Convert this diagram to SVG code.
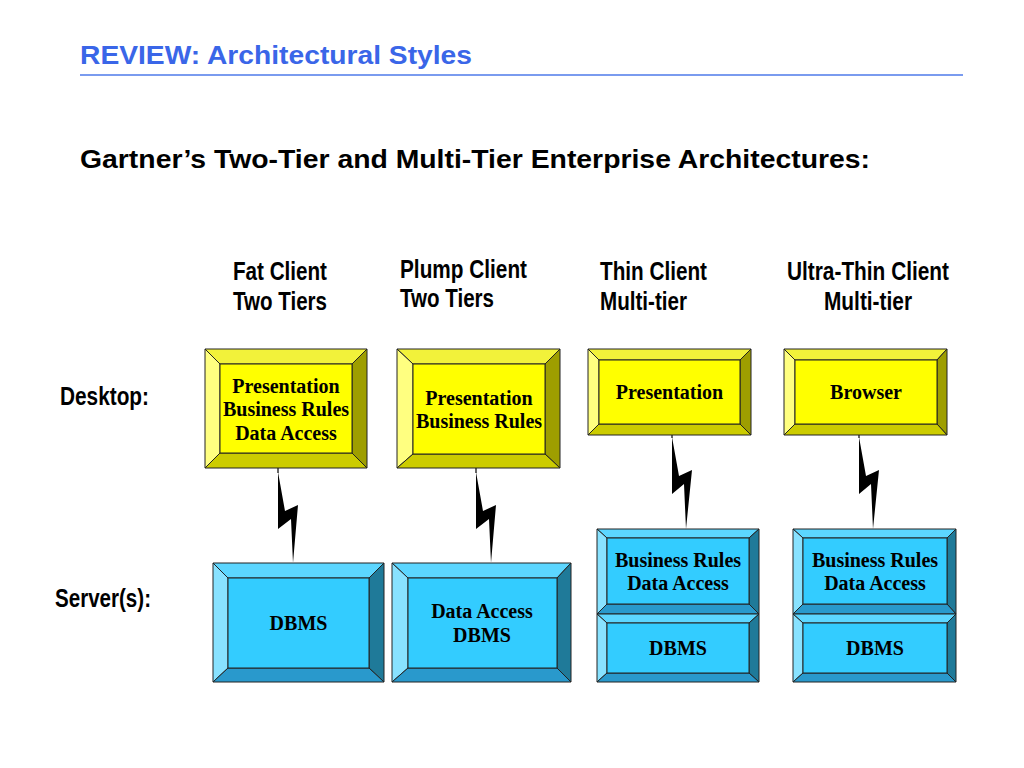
<svg xmlns="http://www.w3.org/2000/svg" width="1024" height="768" viewBox="0 0 1024 768">
<style>
.title{font-family:"Liberation Sans",Arial,sans-serif;font-weight:bold;font-size:26px;fill:#3A66E8}
.sub{font-family:"Liberation Sans",Arial,sans-serif;font-weight:bold;font-size:26px;fill:#000}
.hdr{font-family:"Liberation Sans",Arial,sans-serif;font-weight:bold;font-size:26px;fill:#000}
.bt{font-family:"Liberation Serif","Times New Roman",serif;font-weight:bold;font-size:20px;fill:#000;text-anchor:middle}
.ed{stroke:#222;stroke-width:1;stroke-linejoin:miter}
.yf{fill:#FFFF00}.yt{fill:#F2F23A}.yl{fill:#FFFF80}.yr{fill:#9E9E00}.yb{fill:#CCCC00}
.bf{fill:#33CCFF}.btp{fill:#5CD6FF}.bl{fill:#88E2FF}.br{fill:#1F7A99}.bb{fill:#2999CC}
.bolt{fill:#000}
.wire{stroke:#000;stroke-width:1.2;fill:none}
</style>

<text class="title" x="80" y="64" textLength="392" lengthAdjust="spacingAndGlyphs">REVIEW: Architectural Styles</text>
<line x1="80" y1="75" x2="963" y2="75" stroke="#7A9BEF" stroke-width="2"/>
<text class="sub" x="80" y="168" textLength="790" lengthAdjust="spacingAndGlyphs">Gartner’s Two-Tier and Multi-Tier Enterprise Architectures:</text>

<g id="headers">
<text class="hdr" x="233" y="280" textLength="94" lengthAdjust="spacingAndGlyphs">Fat Client</text>
<text class="hdr" x="233" y="310" textLength="94" lengthAdjust="spacingAndGlyphs">Two Tiers</text>
<text class="hdr" x="400" y="278" textLength="127" lengthAdjust="spacingAndGlyphs">Plump Client</text>
<text class="hdr" x="400" y="307" textLength="94" lengthAdjust="spacingAndGlyphs">Two Tiers</text>
<text class="hdr" x="600" y="280" textLength="107" lengthAdjust="spacingAndGlyphs">Thin Client</text>
<text class="hdr" x="600" y="310" textLength="87" lengthAdjust="spacingAndGlyphs">Multi-tier</text>
<text class="hdr" x="787" y="280" textLength="162" lengthAdjust="spacingAndGlyphs">Ultra-Thin Client</text>
<text class="hdr" x="824" y="310" textLength="88" lengthAdjust="spacingAndGlyphs">Multi-tier</text>
<text class="hdr" x="60" y="405" textLength="89" lengthAdjust="spacingAndGlyphs">Desktop:</text>
<text class="hdr" x="55" y="607" textLength="96" lengthAdjust="spacingAndGlyphs">Server(s):</text>
</g>

<g id="connectors">
<line class="wire" x1="278" y1="468" x2="278" y2="473"/>
<polygon class="bolt" points="278,472 285,511 298,505 293,563 291,519 278,529"/>
<line class="wire" x1="476" y1="466" x2="476" y2="473"/>
<polygon class="bolt" points="476,472 483,511 496,505 491,563 489,519 476,529"/>
<line class="wire" x1="672" y1="435" x2="672" y2="438"/>
<polygon class="bolt" points="672,437 679,476 692,470 686,529 684,484 672,494"/>
<line class="wire" x1="859" y1="435" x2="859" y2="438"/>
<polygon class="bolt" points="859,437 866,476 879,470 873,529 871,484 859,494"/>
</g>

<g id="fat-client-desktop">
<polygon class="yt ed" points="205,349 367,349 352,364 220,364"/>
<polygon class="yl ed" points="205,349 220,364 220,453 205,468"/>
<polygon class="yr ed" points="367,349 367,468 352,453 352,364"/>
<polygon class="yb ed" points="205,468 220,453 352,453 367,468"/>
<rect class="yf ed" x="220" y="364" width="132" height="89"/>
<text class="bt" x="286" y="393">Presentation</text>
<text class="bt" x="286" y="416">Business Rules</text>
<text class="bt" x="286" y="440">Data Access</text>
</g>

<g id="plump-client-desktop">
<polygon class="yt ed" points="397,349 560,349 545,364 413,364"/>
<polygon class="yl ed" points="397,349 413,364 413,454 397,468"/>
<polygon class="yr ed" points="560,349 560,468 545,454 545,364"/>
<polygon class="yb ed" points="397,468 413,454 545,454 560,468"/>
<rect class="yf ed" x="413" y="364" width="132" height="90"/>
<text class="bt" x="479" y="405">Presentation</text>
<text class="bt" x="479" y="428">Business Rules</text>
</g>

<g id="thin-client-desktop">
<polygon class="yt ed" points="588,349 751,349 740,360 599,360"/>
<polygon class="yl ed" points="588,349 599,360 599,424 588,435"/>
<polygon class="yr ed" points="751,349 751,435 740,424 740,360"/>
<polygon class="yb ed" points="588,435 599,424 740,424 751,435"/>
<rect class="yf ed" x="599" y="360" width="141" height="64"/>
<text class="bt" x="669.5" y="399">Presentation</text>
</g>

<g id="ultra-thin-client-desktop">
<polygon class="yt ed" points="784,349 947,349 937,360 795,360"/>
<polygon class="yl ed" points="784,349 795,360 795,424 784,435"/>
<polygon class="yr ed" points="947,349 947,435 937,424 937,360"/>
<polygon class="yb ed" points="784,435 795,424 937,424 947,435"/>
<rect class="yf ed" x="795" y="360" width="142" height="64"/>
<text class="bt" x="866" y="399">Browser</text>
</g>

<g id="fat-client-server">
<polygon class="btp ed" points="213,563 384,563 369,578 228,578"/>
<polygon class="bl ed" points="213,563 228,578 228,668 213,682"/>
<polygon class="br ed" points="384,563 384,682 369,668 369,578"/>
<polygon class="bb ed" points="213,682 228,668 369,668 384,682"/>
<rect class="bf ed" x="228" y="578" width="141" height="90"/>
<text class="bt" x="298.5" y="630">DBMS</text>
</g>

<g id="plump-client-server">
<polygon class="btp ed" points="392,563 571,563 557,578 408,578"/>
<polygon class="bl ed" points="392,563 408,578 408,668 392,682"/>
<polygon class="br ed" points="571,563 571,682 557,668 557,578"/>
<polygon class="bb ed" points="392,682 408,668 557,668 571,682"/>
<rect class="bf ed" x="408" y="578" width="149" height="90"/>
<text class="bt" x="482" y="618">Data Access</text>
<text class="bt" x="482" y="642">DBMS</text>
</g>

<g id="thin-client-app-server">
<polygon class="btp ed" points="597,529 759,529 749,538 607,538"/>
<polygon class="bl ed" points="597,529 607,538 607,604 597,614"/>
<polygon class="br ed" points="759,529 759,614 749,604 749,538"/>
<polygon class="bb ed" points="597,614 607,604 749,604 759,614"/>
<rect class="bf ed" x="607" y="538" width="142" height="66"/>
<text class="bt" x="678" y="567">Business Rules</text>
<text class="bt" x="678" y="590">Data Access</text>
</g>

<g id="thin-client-db-server">
<polygon class="btp ed" points="597,614 759,614 749,623 607,623"/>
<polygon class="bl ed" points="597,614 607,623 607,673 597,682"/>
<polygon class="br ed" points="759,614 759,682 749,673 749,623"/>
<polygon class="bb ed" points="597,682 607,673 749,673 759,682"/>
<rect class="bf ed" x="607" y="623" width="142" height="50"/>
<text class="bt" x="678" y="655">DBMS</text>
</g>

<g id="ultra-thin-client-app-server">
<polygon class="btp ed" points="793,529 956,529 947,538 803,538"/>
<polygon class="bl ed" points="793,529 803,538 803,604 793,614"/>
<polygon class="br ed" points="956,529 956,614 947,604 947,538"/>
<polygon class="bb ed" points="793,614 803,604 947,604 956,614"/>
<rect class="bf ed" x="803" y="538" width="144" height="66"/>
<text class="bt" x="875" y="567">Business Rules</text>
<text class="bt" x="875" y="590">Data Access</text>
</g>

<g id="ultra-thin-client-db-server">
<polygon class="btp ed" points="793,614 956,614 947,623 803,623"/>
<polygon class="bl ed" points="793,614 803,623 803,673 793,682"/>
<polygon class="br ed" points="956,614 956,682 947,673 947,623"/>
<polygon class="bb ed" points="793,682 803,673 947,673 956,682"/>
<rect class="bf ed" x="803" y="623" width="144" height="50"/>
<text class="bt" x="875" y="655">DBMS</text>
</g>
</svg>
